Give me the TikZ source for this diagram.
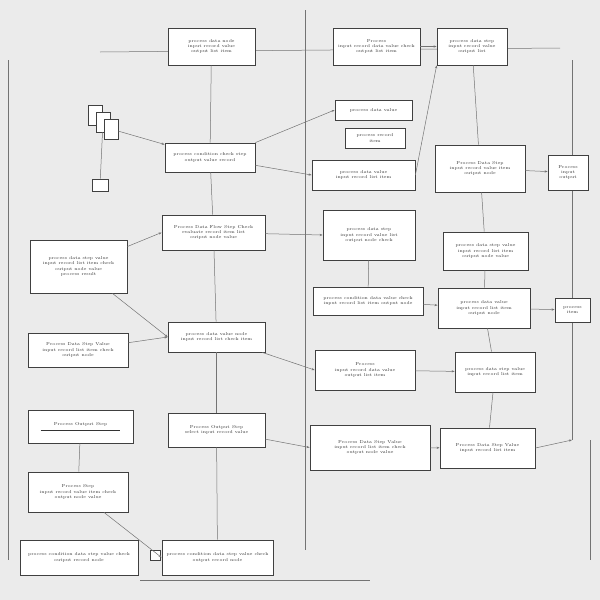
\documentclass[tikz,border=0pt]{standalone}
\usetikzlibrary{arrows.meta}
\begin{document}
\begin{tikzpicture}[x=1pt,y=-1pt,
 bx/.style={draw=black!75,fill=white,line width=0.8pt,inner sep=1pt,font=\fontsize{4.3}{5.3}\selectfont,text=black!80,align=center},
 ln/.style={draw=black!55,line width=0.5pt},
 ar/.style={ln,-{Stealth[length=3pt]}}]
\fill[black!8] (0,0) rectangle (600,600);
\useasboundingbox (0,0) rectangle (600,600);
\newcommand\bxat[6]{\node[bx,minimum width=#4-#2,minimum height=#5-#3] (#1) at ({(#2+#4)/2},{(#3+#5)/2}) {#6};}
% structural lines
\coordinate (v1a) at (8,60); \coordinate (v1b) at (8,560);
\draw[ln] (v1a)--(v1b);
\coordinate (v2a) at (305,10); \coordinate (v2b) at (305,550);
\draw[ln] (v2a)--(v2b);
\coordinate (v3a) at (572,60); \coordinate (v3b) at (572,440);
\draw[ln] (v3a)--(v3b);
\coordinate (v4a) at (590,440); \coordinate (v4b) at (590,560);
\draw[ln] (v4a)--(v4b);
\coordinate (h0) at (100,52); \coordinate (h0b) at (560,48);
\draw[ln] (h0)--(h0b);
\coordinate (h9a) at (140,580); \coordinate (h9b) at (370,580);
\draw[ln] (h9a)--(h9b);
% left column
\bxat{B1}{168}{28}{255}{65}{process data node\\input record value\\output list item}
\bxat{B2}{165}{143}{255}{172}{process condition check step\\output value record}
\bxat{B3}{162}{215}{265}{250}{Process Data Flow Step Check\\evaluate record item list\\output node value}
\bxat{B4}{168}{322}{265}{352}{process data value node\\input record list check item}
\bxat{B5}{168}{413}{265}{447}{Process Output Step\\select input record value}
\bxat{B6}{162}{540}{273}{575}{process condition data step value check\\output record node}
% far left
\bxat{L1}{30}{240}{127}{293}{process data step value\\input record list item check\\output node value\\process result}
\bxat{L2}{28}{333}{128}{367}{Process Data Step Value\\input record list item check\\output node}
\bxat{L3}{28}{410}{133}{443}{Process Output Step\\\rule{80pt}{0.6pt}}
\bxat{L4}{28}{472}{128}{512}{Process Step\\input record value item check\\output node value}
\bxat{L5}{20}{540}{138}{575}{process condition data step value check\\output record node}
% middle
\bxat{M1}{333}{28}{420}{65}{Process\\input record data value check\\output list item}
\bxat{M2}{335}{100}{412}{120}{process data value}
\bxat{M3}{345}{128}{405}{148}{process record\\item}
\bxat{M4}{312}{160}{415}{190}{process data value\\input record list item}
\bxat{M5}{323}{210}{415}{260}{process data step\\input record value list\\output node check}
\bxat{M6}{313}{287}{423}{315}{process condition data value check\\input record list item output node}
\bxat{M7}{315}{350}{415}{390}{Process\\input record data value\\output list item}
\bxat{M8}{310}{425}{430}{470}{Process Data Step Value\\input record list item check\\output node value}
% right
\bxat{R1}{437}{28}{507}{65}{process data step\\input record value\\output list}
\bxat{R2}{435}{145}{525}{192}{Process Data Step\\input record value item\\output node}
\bxat{R3}{443}{232}{528}{270}{process data step value\\input record list item\\output node value}
\bxat{R4}{438}{288}{530}{328}{process data value\\input record list item\\output node}
\bxat{R5}{455}{352}{535}{392}{process data step value\\input record list item}
\bxat{R6}{440}{428}{535}{468}{Process Data Step Value\\input record list item}
\bxat{F1}{548}{155}{588}{190}{Process\\input\\output}
\bxat{F2}{555}{298}{590}{322}{process\\item}
% icon
\node[bx,minimum width=14,minimum height=20] (ic1) at (95,115) {};
\node[bx,minimum width=14,minimum height=20] (ic2) at (103,122) {};
\node[bx,minimum width=14,minimum height=20] (ic3) at (111,129) {};
\node[bx,minimum width=16,minimum height=12] (ic4) at (100,185) {};
\node[bx,minimum width=10,minimum height=10] (ic5) at (155,555) {};
% connectors
\draw[ln] (B1)--(B2); \draw[ln] (B2)--(B3); \draw[ln] (B3)--(B4); \draw[ln] (B4)--(B5); \draw[ln] (B5)--(B6);
\draw[ar] (ic3)--(B2);
\draw[ln] (ic4)--(ic2);
\draw[ar] (B2)--(M4.west);
\draw[ar] (B2.north east)--(M2.west);
\draw[ar] (B3)--(M5.west);
\draw[ar] (L1)--(B3.west);
\draw[ar] (L1)--(B4.west);
\draw[ar] (L2)--(B4.west);
\draw[ar] (B4)--(M7.west);
\draw[ar] (B5)--(M8.west);
\draw[ar] (L4)--(B6.west);
\draw[ln] (L3)--(L4);
\draw[ar] (M1)--(R1);
\draw[ar] (M4.east)--(R1.south west);
\draw[ln] (R1)--(R2); \draw[ln] (R2)--(R3); \draw[ln] (R3)--(R4); \draw[ln] (R4)--(R5); \draw[ln] (R5)--(R6);
\draw[ar] (M6)--(R4);
\draw[ar] (M7)--(R5);
\draw[ar] (M8)--(R6);
\draw[ar] (R2)--(F1);
\draw[ar] (R4)--(F2);
\draw[ln] (M5)--(M6);
\draw[ar] (R6.east)--(v3b);
\end{tikzpicture}
\end{document}
